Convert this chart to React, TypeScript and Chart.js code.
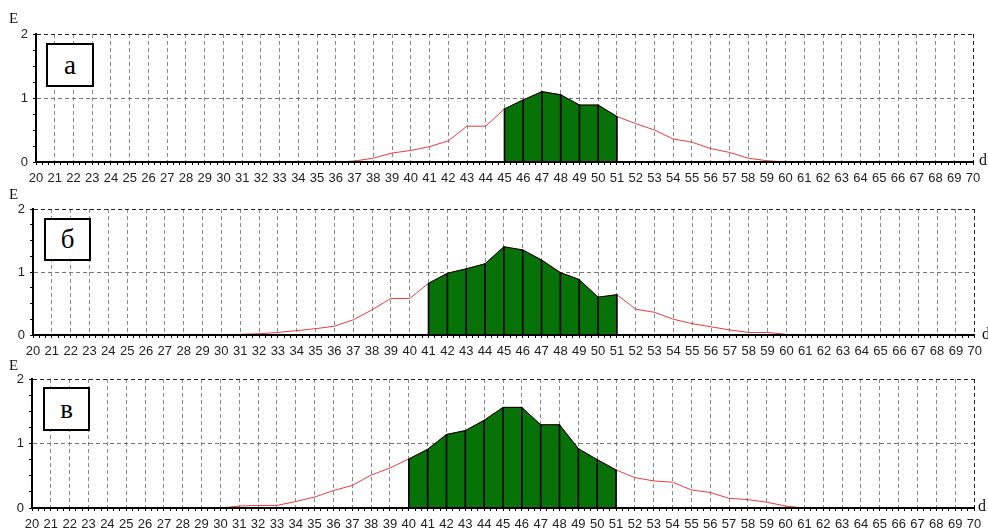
import React, { useEffect, useRef } from 'react';
import { Chart, registerables } from 'chart.js';

Chart.register(...registerables);

// d axis (categories)
const dValues = [
  20, 21, 22, 23, 24, 25, 26, 27, 28, 29, 30, 31, 32, 33, 34, 35, 36, 37, 38, 39,
  40, 41, 42, 43, 44, 45, 46, 47, 48, 49, 50, 51, 52, 53, 54, 55, 56, 57, 58, 59,
  60, 61, 62, 63, 64, 65, 66, 67, 68, 69, 70,
];

// E values for panel "а"
const eA = [
  0, 0, 0, 0, 0, 0, 0, 0, 0, 0, 0, 0, 0, 0, 0, 0, 0,
  0.015, 0.06, 0.14, 0.18, 0.24, 0.33, 0.56, 0.56, 0.83, 0.97, 1.1, 1.05, 0.89, 0.89,
  0.71, 0.6, 0.5, 0.36, 0.31, 0.21, 0.15, 0.06, 0.02,
  0, 0, 0, 0, 0, 0, 0, 0, 0, 0, 0,
];

// E values for panel "б"
const eB = [
  0, 0, 0, 0, 0, 0, 0, 0, 0, 0, 0,
  0.01, 0.02, 0.04, 0.07, 0.1, 0.14, 0.24, 0.4, 0.58, 0.58, 0.82, 0.98, 1.05, 1.13,
  1.4, 1.35, 1.19, 0.99, 0.88, 0.6, 0.64, 0.41, 0.36, 0.25, 0.18, 0.13, 0.08, 0.04,
  0.04, 0.01,
  0, 0, 0, 0, 0, 0, 0, 0, 0, 0,
];

// E values for panel "в"
const eC = [
  0, 0, 0, 0, 0, 0, 0, 0, 0, 0, 0,
  0.03, 0.04, 0.04, 0.1, 0.17, 0.27, 0.35, 0.51, 0.62, 0.76, 0.91, 1.14, 1.2, 1.36,
  1.56, 1.56, 1.29, 1.29, 0.92, 0.75, 0.59, 0.47, 0.42, 0.4, 0.28, 0.24, 0.15, 0.13,
  0.09, 0.03,
  0, 0, 0, 0, 0, 0, 0, 0, 0, 0,
];

// shaded ranges [from, to] for each panel
const fillA = [45, 51];
const fillB = [41, 51];
const fillC = [40, 51];

const panelLetters = ['а', 'б', 'в'];
const yAxisName = 'E';
const xAxisName = 'd';

const isInt = (v: number) => Math.abs(v - Math.round(v)) < 1e-6;

type PanelProps = {
  letter: string;
  values: number[];
  fill: number[];
  top: number;
  height: number;
  plotTop: number;
  plotBottom: number;
  plotLeft: number;
  plotRight: number;
  eTop: number;
  dLeft: number;
  dTop: number;
  box: { left: number; top: number; width: number; height: number };
};

function Panel(p: PanelProps) {
  const ref = useRef<HTMLCanvasElement>(null);
  useEffect(() => {
    if (!ref.current) return;
    const xh = 20;
    const line = dValues.map((d, i) => ({ x: d, y: p.values[i] }));
    const shaded = line.filter((pt) => pt.x >= p.fill[0] && pt.x <= p.fill[1]);
    const tickFont = { family: "'Liberation Sans', Arial, sans-serif", size: 13 };
    const chart = new Chart(ref.current, {
      type: 'line',
      data: {
        datasets: [
          {
            type: 'bar',
            data: shaded,
            backgroundColor: '#000',
            borderWidth: 0,
            barThickness: 1,
            order: 0,
          } as any,
          {
            type: 'line',
            data: shaded,
            fill: 'origin',
            backgroundColor: '#077207',
            borderColor: '#000',
            borderWidth: 1,
            pointRadius: 0,
            tension: 0,
            order: 1,
          },
          {
            type: 'line',
            data: line,
            fill: false,
            borderColor: '#e63c3c',
            borderWidth: 1,
            pointRadius: 0,
            tension: 0,
            order: 2,
          },
        ],
      },
      options: {
        animation: false,
        responsive: false,
        events: [],
        plugins: { legend: { display: false }, tooltip: { enabled: false } },
        layout: {
          padding: {
            top: p.plotTop - p.top,
            bottom: p.top + p.height - p.plotBottom - xh,
            left: 0,
            right: 988 - p.plotRight,
          },
        },
        scales: {
          x: {
            type: 'linear',
            min: 20,
            max: 70,
            offset: false,
            afterFit: (s: any) => {
              s.height = xh;
            },
            ticks: {
              stepSize: 1 / 3,
              autoSkip: false,
              maxRotation: 0,
              minRotation: 0,
              maxTicksLimit: 1000,
              padding: 6,
              color: '#222',
              font: tickFont,
              callback: (v: any) => (isInt(Number(v)) ? String(Math.round(Number(v))) : ''),
            },
            grid: {
              offset: false,
              color: (c: any) => {
                const v = c.tick ? c.tick.value : 0;
                if (!isInt(v)) return 'rgba(0,0,0,0)';
                return Math.round(v) === 70 ? '#222' : '#8a8a8a';
              },
              lineWidth: 1,
              drawTicks: true,
              tickLength: 3,
              tickColor: '#000',
              tickWidth: 1,
            },
            border: { display: true, color: '#000', width: 2, dash: [4, 3], z: 1 },
          },
          y: {
            type: 'linear',
            min: 0,
            max: 2,
            afterFit: (s: any) => {
              s.width = p.plotLeft;
            },
            ticks: {
              stepSize: 0.25,
              autoSkip: false,
              padding: 5,
              color: '#222',
              font: tickFont,
              callback: (v: any) => (isInt(Number(v)) ? String(Math.round(Number(v))) : ''),
            },
            grid: {
              color: (c: any) => {
                const v = c.tick ? c.tick.value : 0;
                if (Math.abs(v - 2) < 1e-6) return '#222';
                if (Math.abs(v - 1) < 1e-6) return '#777';
                return 'rgba(0,0,0,0)';
              },
              lineWidth: 1,
              drawTicks: true,
              tickLength: 3,
              tickColor: '#000',
            },
            border: { display: true, color: '#000', width: 2, dash: [4, 3], z: 1 },
          },
        },
      } as any,
    });
    return () => chart.destroy();
  }, []);

  const serif = "'Liberation Serif', 'DejaVu Serif', serif";
  return (
    <>
      <canvas
        ref={ref}
        width={988}
        height={p.height}
        style={{ position: 'absolute', left: 0, top: p.top, width: 988, height: p.height }}
      />
      <div
        style={{
          position: 'absolute',
          left: 9,
          top: p.eTop,
          fontFamily: serif,
          fontSize: 15,
          lineHeight: '15px',
          color: '#111',
        }}
      >
        {yAxisName}
      </div>
      <div
        style={{
          position: 'absolute',
          left: p.dLeft,
          top: p.dTop,
          fontFamily: serif,
          fontSize: 16,
          lineHeight: '16px',
          color: '#111',
        }}
      >
        {xAxisName}
      </div>
      <div
        style={{
          position: 'absolute',
          left: p.box.left,
          top: p.box.top,
          width: p.box.width,
          height: p.box.height,
          boxSizing: 'border-box',
          border: '2px solid #000',
          background: '#fff',
          display: 'flex',
          alignItems: 'center',
          justifyContent: 'center',
          fontFamily: serif,
          fontSize: 27,
          lineHeight: '27px',
          color: '#000',
        }}
      >
        {p.letter}
      </div>
    </>
  );
}

export default function App() {
  return (
    <div
      style={{
        position: 'absolute',
        left: 0,
        top: 0,
        width: 988,
        height: 531,
        overflow: 'hidden',
        background: '#fff',
      }}
    >
      <Panel
        letter={panelLetters[0]}
        values={eA}
        fill={fillA}
        top={0}
        height={190}
        plotTop={34}
        plotBottom={162}
        plotLeft={36}
        plotRight={973}
        eTop={11}
        dLeft={979}
        dTop={152}
        box={{ left: 46, top: 43, width: 48, height: 44 }}
      />
      <Panel
        letter={panelLetters[1]}
        values={eB}
        fill={fillB}
        top={176}
        height={190}
        plotTop={209}
        plotBottom={335}
        plotLeft={33}
        plotRight={977}
        eTop={187}
        dLeft={982}
        dTop={326}
        box={{ left: 44, top: 218, width: 47, height: 43 }}
      />
      <Panel
        letter={panelLetters[2]}
        values={eC}
        fill={fillC}
        top={345}
        height={186}
        plotTop={379}
        plotBottom={508}
        plotLeft={32}
        plotRight={974}
        eTop={358}
        dLeft={978}
        dTop={498}
        box={{ left: 43, top: 387, width: 47, height: 44 }}
      />
    </div>
  );
}
